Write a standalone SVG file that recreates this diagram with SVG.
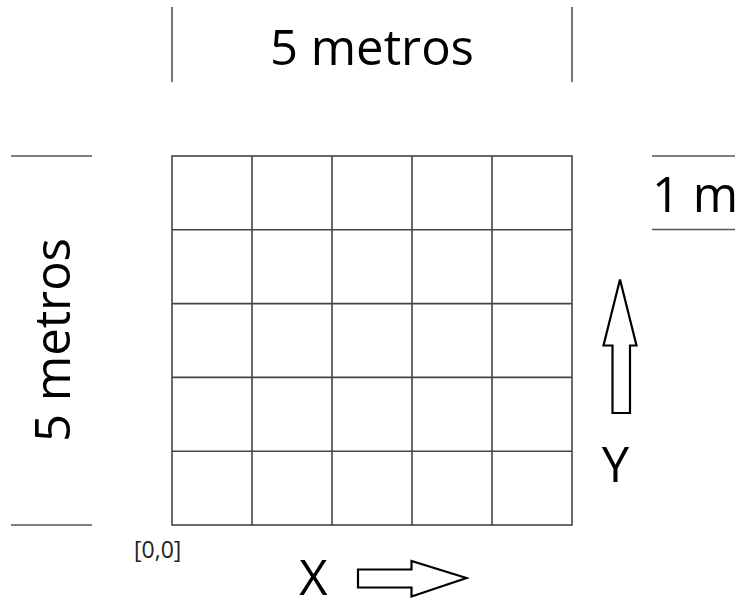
<svg xmlns="http://www.w3.org/2000/svg" width="735" height="601" viewBox="0 0 735 601">
<style>
.big{font-family:"Open Sans","Liberation Sans",sans-serif;font-size:49px;fill:#000}
.small{font-family:"Open Sans","Liberation Sans",sans-serif;font-size:23px;fill:#222}
.grid{stroke:#444;stroke-width:1.6;fill:none}
.tick{stroke:#555;stroke-width:1.6;fill:none}
.arrow{stroke:#000;stroke-width:2.2;fill:#fff;stroke-linejoin:miter}
</style>
<rect width="735" height="601" fill="#fff"/>
<g id="grid">
<rect class="grid" x="172" y="156" width="400" height="369"/>
<path class="grid" d="M252 156V525M332 156V525M412 156V525M492 156V525M172 229.8H572M172 303.6H572M172 377.4H572M172 451.2H572"/>
</g>
<g id="top-dimension">
<path class="tick" d="M172 7V82M572 7V82"/>
<text class="big" x="372" y="65" text-anchor="middle">5 metros</text>
</g>
<g id="left-dimension">
<path class="tick" d="M11 156H92M11 525H92"/>
<text class="big" transform="translate(70,340) rotate(-90)" text-anchor="middle">5 metros</text>
</g>
<g id="unit-scale">
<path class="tick" d="M652 156H735M652 229.5H735"/>
<text class="big" x="652" y="212">1 m</text>
</g>
<g id="y-axis">
<path class="arrow" d="M620 279.5L636.5 345.5H630V413H612.5V345.5H603.5Z"/>
<text class="big" x="615.5" y="482" text-anchor="middle">Y</text>
</g>
<g id="x-axis">
<path class="arrow" d="M358 569.5H411.5V561L466.5 578L411.5 596.5V587.5H358Z"/>
<text class="big" x="313.5" y="595" text-anchor="middle">X</text>
</g>
<g id="origin">
<text class="small" x="134" y="557.5">[0,0]</text>
</g>
</svg>
